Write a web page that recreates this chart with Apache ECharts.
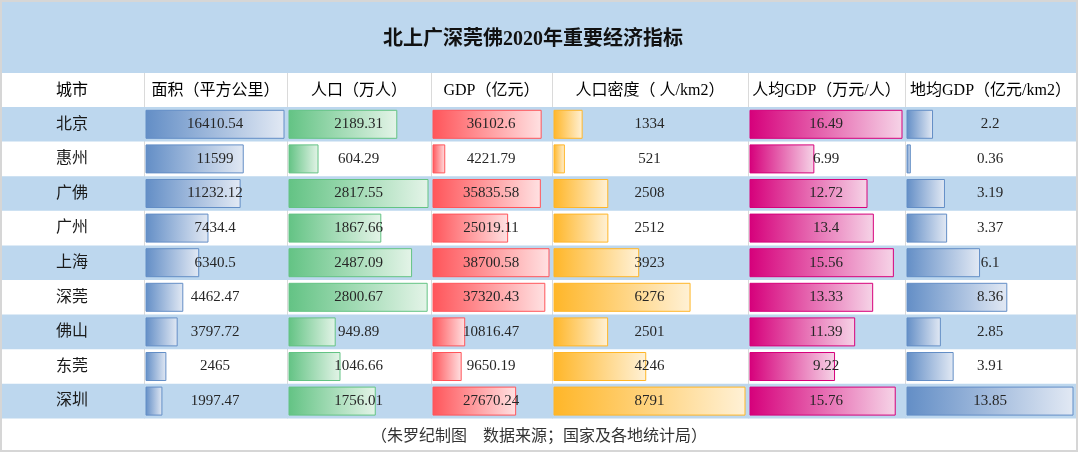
<!DOCTYPE html>
<html>
<head>
<meta charset="utf-8">
<script src="https://cdn.jsdelivr.net/npm/echarts@6/dist/echarts.min.js"></script>
<style>html,body{margin:0;padding:0;background:#fff}#c{width:1080px;height:456px}</style>
</head>
<body>
<div id="c"></div>
<script>
// ---- data ----
const titleText = '北上广深莞佛2020年重要经济指标';
const footerText = '（朱罗纪制图　数据来源；国家及各地统计局）';
const headers = ['城市', '面积（平方公里）', '人口（万人）', 'GDP（亿元）', '人口密度（ 人/km2）', '人均GDP（万元/人）', '地均GDP（亿元/km2）'];
const cities = ['北京', '惠州', '广佛', '广州', '上海', '深莞', '佛山', '东莞', '深圳'];
const area = [16410.54, 11599, 11232.12, 7434.4, 6340.5, 4462.47, 3797.72, 2465, 1997.47];
const population = [2189.31, 604.29, 2817.55, 1867.66, 2487.09, 2800.67, 949.89, 1046.66, 1756.01];
const gdp = [36102.6, 4221.79, 35835.58, 25019.11, 38700.58, 37320.43, 10816.47, 9650.19, 27670.24];
const density = [1334, 521, 2508, 2512, 3923, 6276, 2501, 4246, 8791];
const gdpPerCapita = [16.49, 6.99, 12.72, 13.4, 15.56, 13.33, 11.39, 9.22, 15.76];
const gdpPerArea = [2.2, 0.36, 3.19, 3.37, 6.1, 8.36, 2.85, 3.91, 13.85];

// ---- layout / style ----
const columns = [area, population, gdp, density, gdpPerCapita, gdpPerArea];
const edges = [0, 144, 287, 431, 552, 748, 905, 1076];
const barColors = [
  ['#638EC6', '#E2E9F4'],
  ['#63C384', '#E4F4E8'],
  ['#FF555A', '#FFE1E2'],
  ['#FFB628', '#FFF1D6'],
  ['#D6007B', '#F6D4E7'],
  ['#638EC6', '#E2E9F4']
];
const tableTop = 107, rowH = 34.6, nRows = cities.length;
const band = '#BDD7EE';
const serif = '"Liberation Serif", "Noto Sans CJK SC", serif';
const cjk = '"Liberation Serif", "Noto Sans CJK SC", sans-serif';

const grid = [], xAxis = [], yAxis = [], series = [];
columns.forEach((vals, i) => {
  const left = edges[i + 1] + 1.5;
  const width = edges[i + 2] - edges[i + 1] - 4;
  grid.push({left: left, width: width, top: tableTop, height: rowH * nRows});
  xAxis.push({gridIndex: i, type: 'value', min: 0, max: 'dataMax', show: false});
  yAxis.push({
    gridIndex: i, type: 'category', data: cities, inverse: true, show: i === 0,
    axisLine: {show: false}, axisTick: {show: false}, splitLine: {show: false},
    axisLabel: {show: i === 0, margin: left - (edges[0] + edges[1]) / 2, align: 'center',
      fontFamily: cjk, fontSize: 16, color: '#1a1a1a'}
  });
  series.push({
    type: 'bar', xAxisIndex: i, yAxisIndex: i, data: vals, barWidth: 29,
    itemStyle: {
      color: new echarts.graphic.LinearGradient(0, 0, 1, 0, [
        {offset: 0, color: barColors[i][0]}, {offset: 1, color: barColors[i][1]}]),
      borderColor: barColors[i][0], borderWidth: 1
    },
    label: {
      show: true, position: [width / 2, '50%'], align: 'center', verticalAlign: 'middle',
      formatter: p => String(p.value), fontFamily: serif, fontSize: 15, color: '#262626'
    },
    emphasis: {disabled: true}, animation: false
  });
});

const graphic = [];
graphic.push({type: 'rect', shape: {x: 1, y: 1, width: 1076, height: 450}, style: {fill: '#fff', stroke: '#D6D6D6', lineWidth: 2}, z: -10});
graphic.push({type: 'rect', shape: {x: 2, y: 2, width: 1074, height: 71}, style: {fill: band}, z: -9});
for (let k = 1; k < edges.length - 1; k++) {
  graphic.push({type: 'line', shape: {x1: edges[k] + 0.5, y1: 73, x2: edges[k] + 0.5, y2: tableTop + rowH * nRows}, style: {stroke: '#DADADA', lineWidth: 1}, z: -8});
}
for (let r = 0; r < nRows; r++) {
  if (r % 2 === 0) {
    graphic.push({type: 'rect', shape: {x: 2, y: tableTop + r * rowH, width: 1074, height: rowH}, style: {fill: band}, z: -7});
  }
}
headers.forEach((h, k) => {
  graphic.push({type: 'text', x: (edges[k] + edges[k + 1]) / 2, y: 91,
    style: {text: h, fill: '#000', font: '16px ' + cjk, textAlign: 'center', textVerticalAlign: 'middle'}, z: 1});
});
graphic.push({type: 'text', x: 539, y: 437,
  style: {text: footerText, fill: '#333', font: '16px ' + cjk, textAlign: 'center', textVerticalAlign: 'middle'}, z: 1});

const chart = echarts.init(document.getElementById('c'));
chart.setOption({
  backgroundColor: '#fff',
  animation: false,
  title: {text: titleText, left: 383, top: 30, padding: 0,
    textStyle: {fontFamily: cjk, fontSize: 20, fontWeight: 'bold', color: '#111'}},
  grid: grid, xAxis: xAxis, yAxis: yAxis, series: series, graphic: graphic
});
</script>
</body>
</html>
